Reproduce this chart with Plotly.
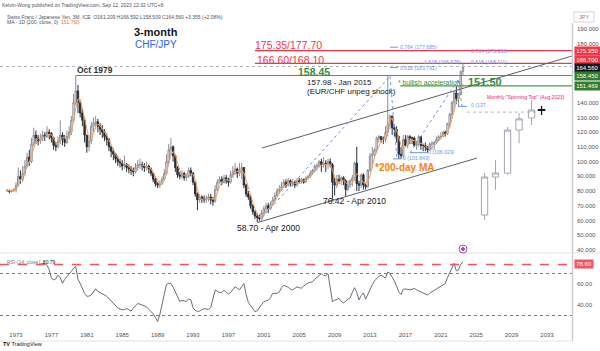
import plotly.graph_objects as go
import pandas as pd

# ---------------- data (quarterly CHF/JPY) ----------------
first_year = 1972          # first quarterly bar: 1972 Q1
first_open = 80.0

close = [
    80.5, 79.8, 80.2, 81.0,      # 1972
    84, 90, 88, 92,              # 1973
    97, 103, 100, 112,           # 1974
    118, 116, 114, 116,          # 1975
    118, 117, 120, 119,          # 1976
    116, 111, 110, 114,          # 1977
    118, 115, 113, 117,          # 1978
    120, 128, 140, 148,          # 1979
    140, 133, 128, 118,          # 1980
    110, 114, 124, 126,          # 1981
    127, 124, 122, 120,          # 1982
    117, 115, 110, 107,          # 1983
    105, 102, 100, 99,           # 1984
    97, 98, 96, 95,              # 1985
    94, 93, 96, 98,              # 1986
    98, 97, 96, 97,              # 1987
    95, 92, 88, 85,              # 1988
    84, 85, 88, 92,              # 1989
    100, 108, 110, 104,          # 1990
    96, 91, 90, 92,              # 1991
    89, 90, 94, 92,              # 1992
    86, 78, 74, 76,              # 1993
    75, 74, 75, 76,              # 1994
    74, 73, 81, 86,              # 1995
    88, 86, 89, 87,              # 1996
    86, 91, 93, 95,              # 1997
    92, 94, 96, 84,              # 1998
    78, 76, 70, 66,              # 1999
    63, 62, 61, 65,              # 2000
    68, 70, 68, 71,              # 2001
    74, 77, 80, 81,              # 2002
    83, 86, 84, 87,              # 2003
    85, 86, 84, 87,              # 2004
    86, 88, 86, 89,              # 2005
    90, 92, 94, 97,              # 2006
    97, 100, 98, 99,             # 2007
    98, 100, 98, 86,             # 2008
    84, 88, 87, 89,              # 2009
    87, 81, 84, 87,              # 2010
    89, 99, 85, 84,              # 2011
    91, 84, 83, 94,              # 2012
    104, 105, 108, 116,          # 2013
    117, 115, 115, 120,          # 2014
    125, 131, 123, 122,          # 2015
    117, 105, 104, 115,          # 2016
    111, 117, 116, 116,          # 2017
    111, 112, 117, 111,          # 2018
    111, 110, 108, 112,          # 2019
    112, 113, 115, 117,          # 2020
    117, 120, 119, 126,          # 2021
    132, 140, 146.6, 142.8,      # 2022
    145.3, 161.209, 164.56,      # 2023
]
high = [
    81.5, 81, 81, 82,
    86, 96, 94, 97,
    101, 106, 108, 116,
    123, 121, 118, 119,
    121, 120, 124, 122,
    120, 117, 113, 117,
    128, 120, 118, 121,
    124, 131, 146, 158.45,
    152, 142, 136, 130,
    118, 118, 127, 130,
    131, 129, 126, 125,
    122, 119, 116, 111,
    109, 106, 104, 102,
    101, 104, 99, 98,
    97, 96, 99, 101,
    102, 100, 99, 100,
    98, 96, 93, 89,
    86, 87, 90, 95,
    105, 112, 116, 111,
    105, 97, 93, 94,
    93, 92, 96, 96,
    93, 87, 79, 78,
    77, 77, 77, 78,
    78, 76, 84, 88,
    90, 90, 91, 91,
    89, 94, 97, 99,
    96, 99, 99, 96,
    85, 80, 77, 71,
    67, 65, 64, 67,
    70, 72, 72, 73,
    76, 79, 82, 84,
    86, 88, 88, 89,
    88, 88, 87, 89,
    89, 89, 88, 90,
    91, 94, 95, 98,
    99, 101, 102, 103,
    101, 102, 102, 99,
    89, 91, 91, 90,
    90, 88, 87, 88,
    91, 100, 110, 87,
    92, 92, 85, 95,
    106, 110, 109, 117,
    118, 117, 117, 124,
    157.98, 132, 131, 125,
    124, 117, 110, 118,
    118, 118, 118, 117,
    117, 114, 118, 117,
    112, 113, 110, 113,
    114, 114, 117, 118,
    120, 121, 121, 126,
    133, 141, 148, 151.47,
    146.7, 161.8, 166.592,
]
low = [
    79.5, 78.5, 79, 79.5,
    79, 83, 85, 86,
    90, 96, 97, 99,
    110, 112, 111, 112,
    114, 114, 116, 115,
    113, 108, 107, 109,
    112, 111, 110, 112,
    115, 118, 127, 138,
    133, 130, 124, 113,
    106, 107, 112, 120,
    122, 120, 118, 116,
    114, 111, 107, 103,
    101, 99, 97, 96,
    94, 95, 93, 92,
    91, 90, 92, 94,
    95, 94, 93, 94,
    92, 90, 86, 83,
    82, 82, 84, 87,
    91, 98, 104, 100,
    93, 89, 88, 88,
    87, 87, 89, 90,
    84, 76, 67, 72,
    72, 72, 72, 73,
    71, 70, 72, 80,
    85, 84, 85, 85,
    83, 85, 89, 91,
    89, 90, 88, 82,
    76, 74, 68, 64,
    61, 58.70, 59.5, 60,
    63, 66, 65, 67,
    70, 73, 76, 78,
    80, 82, 82, 83,
    83, 83, 82, 83,
    85, 85, 85, 86,
    88, 89, 91, 93,
    94, 96, 93, 96,
    93, 95, 96, 73,
    77, 82, 85, 84,
    84, 76.42, 80, 82,
    83, 87, 80, 80,
    82, 81, 81, 82,
    93, 96, 102, 106,
    113, 113, 112, 113,
    117, 122, 118, 117,
    113, 101.843, 102, 102,
    110, 109, 112, 112,
    110, 108, 110, 108,
    107, 107, 106.029, 107,
    108, 108, 112, 114,
    115, 117, 117, 118,
    123, 129, 134, 139,
    137.46, 145.5, 158.509,
]
rsi = [
    79.0,
    79.3, 79.5, 78.0, 73.5,   66.0, 63.8, 65.0, 68.5,   66.0, 60.6, 64.5, 67.5,
    69.5, 72.0, 75.0, 76.6,   64.5, 60.6, 55.0, 51.0,   48.3, 48.5, 49.5, 53.0,
    55.5, 53.0, 52.0, 51.1,   49.5, 48.3, 46.0, 43.5,   41.2, 39.0, 37.2, 36.3,
    35.5, 35.5, 36.5, 35.5,   34.2, 37.0, 39.0, 41.4,   40.8, 39.8, 39.0, 38.4,
    36.0, 34.0, 31.5, 28.0,   24.2, 31.0, 40.0, 50.0,   59.5, 60.6, 60.6, 57.0,
    52.5, 48.0, 43.3, 44.4,   44.2, 43.4, 45.8, 45.0,   37.5, 34.8, 34.0, 34.2,
    35.5, 36.6, 36.2, 35.8,   37.5, 46.0, 54.3, 53.0,   51.8, 51.8, 54.2, 52.0,
    50.5, 52.0, 55.0, 57.3,   56.0, 54.5, 57.5, 60.4,   50.0, 42.5, 39.5, 36.5,
    33.6, 34.6, 37.5, 40.5,   43.2, 44.0, 44.6, 47.0,   51.0, 51.1, 51.1, 52.5,
    56.5, 58.8, 58.0, 57.0,   55.2, 54.3, 55.8, 57.2,   56.6, 55.9, 58.2, 60.0,
    61.0, 61.5, 62.2, 64.5,   66.6, 68.5, 70.0, 68.0,   68.0, 70.0, 57.0, 43.2,
    44.4, 45.3, 46.2, 43.6,   42.0, 43.7, 45.6, 47.0,   52.0, 56.5, 52.0, 44.8,
    49.0, 51.5, 45.5, 50.5,   56.0, 59.3, 63.0, 65.3,   67.3, 68.3, 66.8, 65.6,
    71.5, 70.0, 66.5, 63.0,   58.0, 52.5, 50.0, 55.0,   55.3, 54.7, 54.5, 55.0,
    55.8, 54.5, 53.4, 52.5,   51.2, 50.2, 49.5, 51.3,   52.6, 54.0, 55.6, 57.0,
    58.2, 59.2, 60.5, 66.0,   70.5, 76.6, 79.7, 72.5,   73.5, 78.8, 80.79,
]
# projected "monthly" candle drawing on the right
proj_x = [2025.94, 2027.18, 2028.54, 2029.84, 2031.25, 2032.38]
proj_open = [63.7, 89.5, 92.2, 121.4, 129.6, 135.2]
proj_high = [92.2, 101.0, 123.5, 133.0, 141.8, 137.7]
proj_low = [60.3, 80.7, 91.0, 112.6, 124.8, 131.6]
proj_close = [89.5, 92.2, 121.4, 129.0, 135.0, 134.8]

year_ticks = [1973, 1977, 1981, 1985, 1989, 1993, 1997, 2001, 2005, 2009, 2013, 2017, 2021, 2025, 2029, 2033]
price_ticks = [40, 50, 60, 70, 80, 90, 100, 110, 120, 130, 140, 180, 190]
rsi_ticks = [40, 60]
red_levels = [175.35, 166.70]
green_levels = [158.45, 151.469]
last_close = 164.56

# ---------------- layout helpers ----------------
W, H = 600, 351
def px(x): return x / W
def py(y): return 1 - y / H

X0, X1 = 1971.19, 2035.82
XD = [0, 572 / W]

qx = [first_year + i * 0.25 for i in range(len(close))]
opens = [first_open] + close[:-1]
rx = qx[len(close) - len(rsi):]
mid = pd.Series([(h + l) / 2 for h, l in zip(high, low)])
ma = mid.rolling(3, min_periods=1).mean()

fig = go.Figure()
fig.add_trace(go.Candlestick(
    x=qx, open=opens, high=high, low=low, close=close, xaxis='x', yaxis='y',
    increasing=dict(line=dict(color='#8c8f99', width=1), fillcolor='#ffffff'),
    decreasing=dict(line=dict(color='#2a2e39', width=1), fillcolor='#2a2e39'),
    whiskerwidth=0, hoverinfo='skip', showlegend=False))
fig.add_trace(go.Scatter(x=qx, y=ma, mode='lines', line=dict(color='#f6a35e', width=1),
                         hoverinfo='skip', showlegend=False))
fig.add_trace(go.Candlestick(
    x=proj_x, open=proj_open, high=proj_high, low=proj_low, close=proj_close,
    xaxis='x3', yaxis='y',
    increasing=dict(line=dict(color='#a3a6af', width=1), fillcolor='#ffffff'),
    decreasing=dict(line=dict(color='#131722', width=1.3), fillcolor='#131722'),
    whiskerwidth=0, hoverinfo='skip', showlegend=False))
fig.add_trace(go.Scatter(x=rx, y=rsi, mode='lines', xaxis='x2', yaxis='y2',
                         line=dict(color='#6a6d78', width=1), hoverinfo='skip', showlegend=False))

shapes = []
def seg(x0, y0, x1, y1, color, width=1, dash='solid', xref='x', yref='y'):
    shapes.append(dict(type='line', xref=xref, yref=yref, x0=x0, y0=y0, x1=x1, y1=y1,
                       line=dict(color=color, width=width, dash=dash), layer='above'))

GREEN = '#43a047'
RED = '#f23645'
FIB = '#6f94e8'
# price line
seg(X0, last_close, X1, last_close, '#b2b5be', 1, 'dot')
# horizontal levels
seg(2000.0, red_levels[0], X1, red_levels[0], RED, 1.2)
seg(2000.0, red_levels[1], X1, red_levels[1], RED, 1.2)
seg(1979.75, green_levels[0], X1, green_levels[0], GREEN, 1.2)
seg(2016.4, green_levels[1], X1, green_levels[1], GREEN, 1.2)
# channel
seg(2000.8, 109.2, X1, 171.7, '#5d606b', 1)
seg(2000.34, 58.70, 2025.09, 102.4, '#5d606b', 1)
# fib trend lines (dotted)
seg(2000.34, 58.70, 2015.26, 157.98, FIB, 1, 'dot')
seg(2015.26, 157.98, 2016.05, 101.843, FIB, 1, 'dot')
seg(2017.52, 106.029, 2022.94, 155.4, FIB, 1, 'dot')
seg(2022.94, 155.4, 2023.4, 137.46, FIB, 1, 'dot')
# fib level stubs
seg(2015.26, 177.685, 2016.16, 177.685, FIB)
seg(2015.26, 163.791, 2016.16, 163.791, FIB)
seg(2015.6, 101.843, 2016.6, 101.843, FIB)
seg(2017.52, 106.029, 2019.44, 106.029, FIB)
seg(2022.94, 137.46, 2023.95, 137.46, FIB)
# dotted spinning-top level
seg(2023.94, 133.6, 2032.0, 133.6, '#b2b5be', 1, 'dot')
# RSI levels
seg(X0, 78.6, X1, 78.6, '#f7525f', 1.3, 'dash', 'x2', 'y2')
seg(X0, 70, X1, 70, '#787b86', 1, 'dot', 'x2', 'y2')
seg(X0, 30, X1, 30, '#787b86', 1, 'dot', 'x2', 'y2')
# frame lines
def pline(x0, y0, x1, y1, color, width=1):
    shapes.append(dict(type='line', xref='paper', yref='paper', x0=px(x0), y0=py(y0),
                       x1=px(x1), y1=py(y1), line=dict(color=color, width=width)))
pline(572.5, 23, 572.5, 341, '#c9ccd3', 1.5)
pline(0, 253, 600, 253, '#e0e3eb', 1)
pline(0, 341, 572, 341, '#e0e3eb', 1)
# JPY box
shapes.append(dict(type='rect', xref='paper', yref='paper', x0=px(574), x1=px(594), y0=py(22), y1=py(12),
                   line=dict(color='#d1d4dc', width=1), fillcolor='white'))
# purple marker
shapes.append(dict(type='circle', xref='paper', yref='paper', x0=px(459), x1=px(467), y0=py(253), y1=py(245),
                   line=dict(color='#ab47bc', width=1), fillcolor='white'))
shapes.append(dict(type='circle', xref='paper', yref='paper', x0=px(461.5), x1=px(464.5), y0=py(250.5), y1=py(247.5),
                   line=dict(color='#ab47bc', width=1), fillcolor='#ab47bc'))

ann = []
def txt(s, x, y, size, color='#131722', anchor='left', bold=False):
    if bold:
        s = '<b>' + s + '</b>'
    ann.append(dict(text=s, x=px(x), y=py(y), xref='paper', yref='paper', xanchor=anchor, yanchor='middle',
                    showarrow=False, font=dict(size=size, color=color), borderpad=0))

def box(s, y, bg):
    ann.append(dict(text=s, x=px(573.5), y=py(y), xref='paper', yref='paper', xanchor='left', yanchor='middle',
                    showarrow=False, font=dict(size=6, color='white'), bgcolor=bg, borderpad=1.2))

# header
txt('Kelvin-Wong published on TradingView.com, Sep 12, 2023 12:32 UTC+8', 1, 5, 5, '#50535e')
txt('Swiss Franc / Japanese Yen, 3M, ICE  O161.209 H166.592 L158.509 C164.560 +3.355 (+2.08%)', 6, 16.5, 5, '#50535e')
txt('MA - 1D (200, close, 0)  <span style="color:#ff6d00">151.760</span>', 6, 22.5, 5, '#50535e')
txt('JPY', 584, 17, 5.5, '#787b86', 'center')
# titles
txt('3-month', 156, 32, 11, '#131722', 'center', True)
txt('CHF/JPY', 156, 44.5, 10, '#2962ff', 'center')
# annotations
txt('Oct 1979', 76, 69.5, 8.5, '#333333', bold=True)
txt('175.35/177.70', 254, 44.5, 10.5, RED)
txt('166.60/168.10', 256, 59.5, 10.5, RED)
txt('158.45', 297, 71.5, 10.5, '#388e3c', bold=True)
txt('157.98 - Jan 2015', 306, 82, 8, '#131722')
txt('(EUR/CHF unpeg shock)', 306, 91.5, 8, '#131722')
txt('* bullish acceleration', 397, 82, 6.8, '#388e3c')
txt('151.50', 467, 82, 11, '#388e3c', bold=True)
txt('Monthly "Spinning Top" (Aug 2023)', 486, 97, 5, '#e91e63')
txt('*200-day MA', 374, 167, 10, '#ff7f0e', bold=True)
txt('76:42 - Apr 2010', 322, 201, 8.5, '#131722')
txt('58.70 - Apr 2000', 236, 228, 8.5, '#131722')
# fib labels
txt('0.764 (177.685)', 399, 47, 5.2, FIB)
txt('0.618 (163.791)', 399, 68, 5.2, FIB)
txt('0 (101.843)', 402, 158, 5.2, FIB)
txt('0 (106.029)', 427, 152, 5.2, FIB)
txt('1.618 (166.678)', 462, 61.5, 5.2, FIB, 'right')
txt('0.618 (168.111)', 470, 61.5, 5.2, FIB)
txt('0.764 (175.356)', 470, 51, 5.2, FIB)
txt('0 (137.', 470, 105, 5.2, FIB)
# RSI legend
txt('RSI (14, close)  <span style="color:#131722">80.79</span>', 6, 262, 5, '#787b86')
# footer
txt('<b>TV</b> TradingView', 2, 344, 5.5, '#131722')
# price-axis value boxes
box('175.350', 51, RED)
box('166.700', 60, RED)
box('164.560', 67.5, '#131722')
box('158.450', 76, '#2e7d32')
box('151.469', 86, '#2e7d32')
box('78.60', 264, '#f7525f')

fig.update_layout(
    width=W, height=H, margin=dict(l=0, r=0, t=0, b=0),
    paper_bgcolor='white', plot_bgcolor='white', showlegend=False,
    font=dict(family='Liberation Sans, Arial, sans-serif'),
    boxgap=0.1,
    xaxis=dict(domain=XD, range=[X0, X1], anchor='y', showticklabels=False, showgrid=False,
               zeroline=False, showline=False, ticks='', rangeslider=dict(visible=False)),
    xaxis3=dict(domain=XD, range=[X0, X1], anchor='y', overlaying='x', visible=False,
                rangeslider=dict(visible=False)),
    xaxis2=dict(domain=XD, range=[X0, X1], anchor='y2', tickmode='array', tickvals=year_ticks,
                ticktext=[str(v) for v in year_ticks], tickfont=dict(size=6, color='#50535e'),
                ticks='', showgrid=False, zeroline=False, showline=False, ticklabelstandoff=5,
                rangeslider=dict(visible=False)),
    yaxis=dict(domain=[py(252), py(18)], range=[38.6, 197.5], side='right', anchor='x',
               tickmode='array', tickvals=price_ticks, ticktext=['%.3f' % v for v in price_ticks],
               tickfont=dict(size=6, color='#50535e'), ticks='', showgrid=False, zeroline=False,
               showline=False, ticklabelstandoff=4),
    yaxis2=dict(domain=[py(325), py(254)], range=[20.95, 88.6], side='right', anchor='x2',
                tickmode='array', tickvals=rsi_ticks, ticktext=['%.2f' % v for v in rsi_ticks],
                tickfont=dict(size=6, color='#50535e'), ticks='', showgrid=False, zeroline=False,
                showline=False, ticklabelstandoff=4),
    shapes=shapes, annotations=ann,
)
fig.write_html('out.html')
